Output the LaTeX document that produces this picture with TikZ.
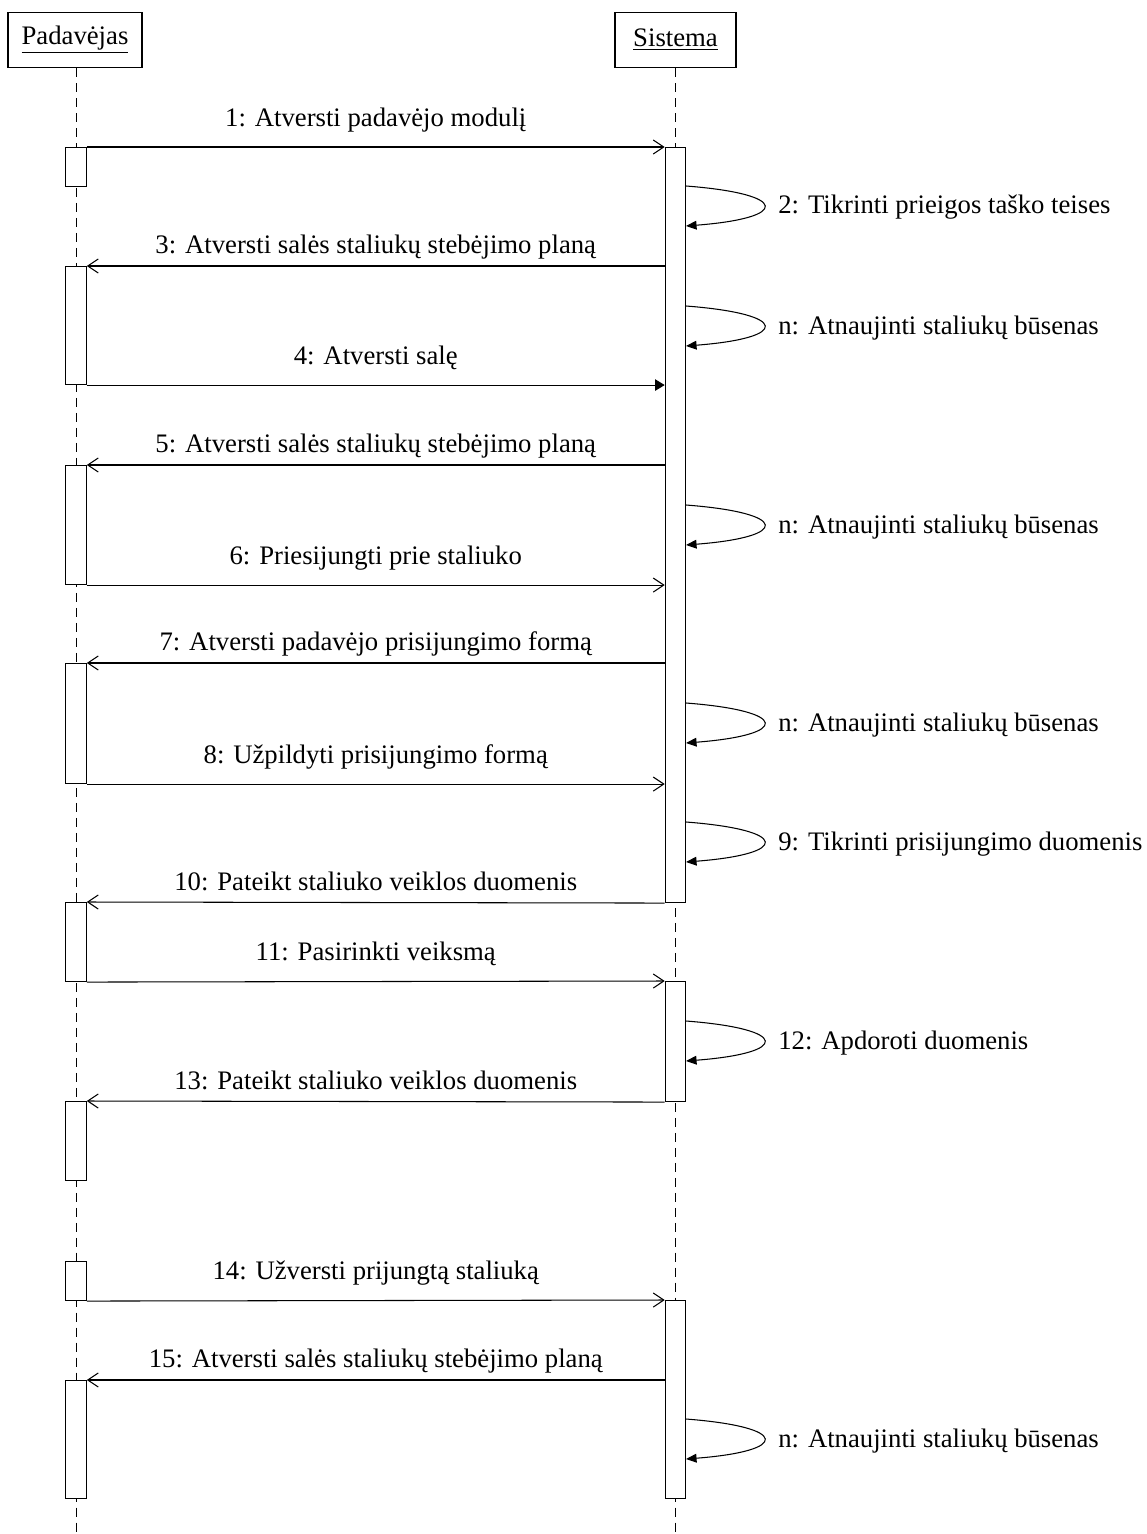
\documentclass[tikz,border=0pt]{standalone}
\usepackage{fontspec}
\setmainfont{Liberation Serif}
\usetikzlibrary{arrows.meta, positioning}

% activation bar: name, x, top, bottom (picture units)
\newcommand{\actbar}[4]{\node[act, minimum height={(#4-#3)*0.02cm}] (#1) at (#2,#3) {};}

\begin{document}
\begin{tikzpicture}[x=0.02cm, y=-0.02cm,
        font=\fontsize{15.2}{18}\selectfont,
        head/.style={draw, rectangle, line width=0.6pt, minimum height=1.1cm, inner sep=0pt},
        lifeline/.style={line width=0.5pt, dash pattern=on 0.18cm off 0.12cm},
        act/.style={draw, rectangle, fill=white, anchor=north, minimum width=0.41cm, inner sep=0pt, line width=0.6pt},
        msg/.style={line width=0.6pt, -{Straight Barb[length=6pt, width=8pt]}},
        call/.style={line width=0.6pt, -{Triangle[length=5.5pt, width=6.5pt]}},
        selfmsg/.style={line width=0.6pt, -{Triangle[length=6pt, width=5pt]}},
        fwdlabel/.style={midway, anchor=base, yshift=0.42cm},
        backlabel/.style={midway, anchor=base, yshift=0.25cm},
        looplabel/.style={anchor=base west, inner sep=0pt}
    ]
    \useasboundingbox (0,0) rectangle (1146,1534);

    % heads and lifelines
    \node[head, minimum width=2.68cm] (pad) at (75,40) {\underline{Padavėjas}};
    \node[head, minimum width=2.42cm] (sis) at (675.5,40) {\underline{Sistema}};
    \draw[lifeline] (pad.south -| 76,0) -- (76,1534);
    \draw[lifeline] (sis.south) -- (675.5,1534);

    % activations
    \actbar{pa1}{76}{147}{186}
    \actbar{pa2}{76}{266}{384}
    \actbar{pa3}{76}{465}{584}
    \actbar{pa4}{76}{663}{783}
    \actbar{pa5}{76}{902}{981}
    \actbar{pa6}{76}{1101}{1180}
    \actbar{pa7}{76}{1261}{1300}
    \actbar{pa8}{76}{1380}{1498}
    \actbar{sa1}{675.5}{147}{902}
    \actbar{sa2}{675.5}{981}{1101}
    \actbar{sa3}{675.5}{1300}{1498}

    % messages
    \draw[msg] (pa1.north east) -- (sa1.north west) node[fwdlabel] {1: Atversti padavėjo modulį};
    \draw[msg] (sa1.west |- pa2.north) -- (pa2.north east) node[backlabel] {3: Atversti salės staliukų stebėjimo planą};
    \draw[call] (pa2.south east) -- (sa1.west |- pa2.south) node[fwdlabel] {4: Atversti salę};
    \draw[msg] (sa1.west |- pa3.north) -- (pa3.north east) node[backlabel] {5: Atversti salės staliukų stebėjimo planą};
    \draw[msg] (pa3.south east) -- (sa1.west |- pa3.south) node[fwdlabel] {6: Priesijungti prie staliuko};
    \draw[msg] (sa1.west |- pa4.north) -- (pa4.north east) node[backlabel] {7: Atversti padavėjo prisijungimo formą};
    \draw[msg] (pa4.south east) -- (sa1.west |- pa4.south) node[fwdlabel] {8: Užpildyti prisijungimo formą};
    \draw[msg] (sa1.south west) -- (pa5.north east) node[backlabel] {10: Pateikt staliuko veiklos duomenis};
    \draw[msg] (pa5.south east) -- (sa2.north west) node[fwdlabel] {11: Pasirinkti veiksmą};
    \draw[msg] (sa2.south west) -- (pa6.north east) node[backlabel] {13: Pateikt staliuko veiklos duomenis};
    \draw[msg] (pa7.south east) -- (sa3.north west) node[fwdlabel] {14: Užversti prijungtą staliuką};
    \draw[msg] (sa3.west |- pa8.north) -- (pa8.north east) node[backlabel] {15: Atversti salės staliukų stebėjimo planą};

    % self calls
    \foreach \ly/\lt in {186/{2: Tikrinti prieigos taško teises}, 306/{n: Atnaujinti staliukų būsenas},
            505/{n: Atnaujinti staliukų būsenas}, 703/{n: Atnaujinti staliukų būsenas},
            822/{9: Tikrinti prisijungimo duomenis}, 1021/{12: Apdoroti duomenis},
            1419/{n: Atnaujinti staliukų būsenas}} {
        \coordinate (s\ly) at (686,\ly);
        \coordinate (e\ly) at (686,\ly+40);
        \draw[selfmsg] (s\ly) .. controls +(104,8) and +(104,-8) .. (e\ly);
        \node[looplabel] (t\ly) at (778,\ly+28) {\lt};
    }
\end{tikzpicture}
\end{document}
